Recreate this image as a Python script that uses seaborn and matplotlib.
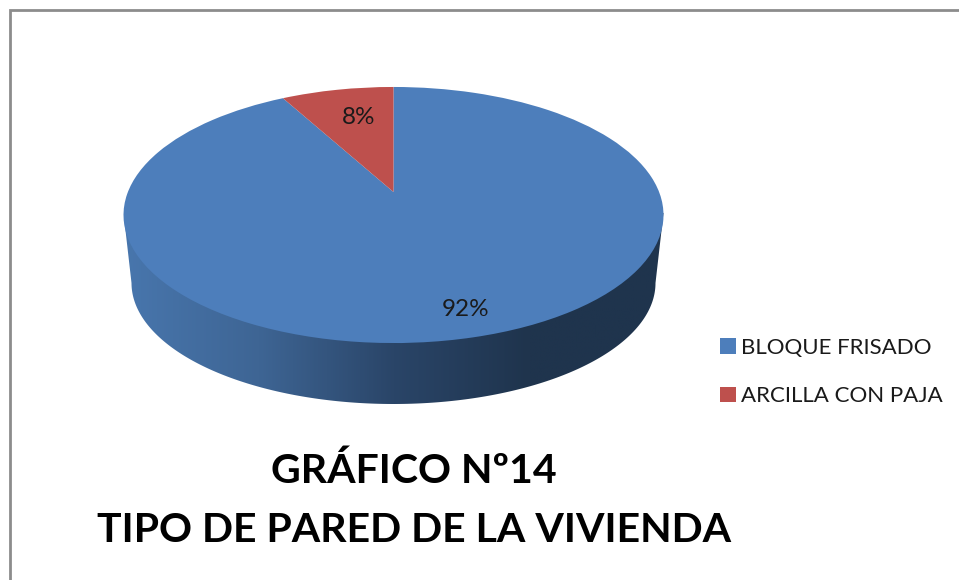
import numpy as np
import matplotlib
matplotlib.use('Agg')
import matplotlib.pyplot as plt
import seaborn as sns
from matplotlib.colors import LinearSegmentedColormap
from matplotlib.patches import Polygon
from matplotlib.transforms import Transform

# datos
categorias = ['BLOQUE FRISADO', 'ARCILLA CON PAJA']
valores = [92, 8]
titulo = ['GRÁFICO Nº14', 'TIPO DE PARED DE LA VIVIENDA']
colores = ['#4D7EBB', '#BE504D']
colores_lado = ['#4876AD', '#3E6594', '#2A4568', '#1F344D', '#1F344D']

sns.set_theme(style='white')
plt.rcParams['font.family'] = ['Lato', 'DejaVu Sans']


class Perspectiva(Transform):
    """Pasa el circulo unidad del pie a pixeles, inclinado como un pie 3D"""
    input_dims = 2
    output_dims = 2

    def transform_non_affine(self, xy):
        xy = np.asarray(xy)
        den = 1 + 0.1797 * xy[:, 1]
        return np.column_stack([393.5 + 265.6 * xy[:, 0] / den,
                                (192 - 89.4 * xy[:, 1]) / den])


fig = plt.figure(figsize=(9.59, 5.8), dpi=100)
ax = fig.add_axes([0, 0, 1, 1])

# el pie empieza donde termina la rebanada roja (arriba a la izquierda)
inicio = 90 + valores[1] * 360 / sum(valores)
wedges, _, autotexts = ax.pie(valores, colors=sns.color_palette(colores), startangle=inicio,
                              autopct='%d%%', wedgeprops={'linewidth': 0, 'edgecolor': 'none'},
                              textprops={'fontsize': 17.5, 'color': '#1a1a1a'})
persp = Perspectiva()
for w in wedges:
    w.set_transform(persp + ax.transData)
    w.set_zorder(3)
autotexts[0].set_position((466, 310))
autotexts[1].set_position((359, 117))
for t in autotexts:
    t.set_zorder(4)

# lado del cilindro con degradado, recortado a la silueta
t = np.linspace(np.pi, 2 * np.pi, 200)
borde_x = 393.5 + 262 * np.cos(t)
borde_y = 283 - 121 * np.sin(t)
silueta = Polygon(np.column_stack([np.r_[123.5, borde_x, 663.5], np.r_[213, borde_y, 213]]),
                  closed=True, transform=ax.transData, facecolor='none', edgecolor='none')
ax.add_patch(silueta)
cmap = LinearSegmentedColormap.from_list('lado', colores_lado)
grad = ax.imshow(np.linspace(0, 1, 256)[None, :], cmap=cmap, aspect='auto',
                 extent=(124, 664, 420, 200), zorder=2)
grad.set_clip_path(silueta)

ax.set_aspect('auto')
ax.set_xlim(0, 959)
ax.set_ylim(580, 0)
ax.axis('off')

# marco gris, solo arriba y a la izquierda
ax.plot([10, 10, 959], [580, 10, 10], color='#8c8c8c', lw=2, solid_joinstyle='miter', zorder=1)

leg = ax.legend(wedges, categorias, loc='upper left', bbox_to_anchor=(711, 329),
                bbox_transform=ax.transData, frameon=False, fontsize=16,
                handlelength=0.72, handleheight=0.72, handletextpad=0.25,
                labelspacing=1.28, borderaxespad=0, labelcolor='#1a1a1a')

ax.text(414, 471, titulo[0], ha='center', va='center', fontsize=29.5, fontweight='bold', color='black')
ax.text(414, 530, titulo[1], ha='center', va='center', fontsize=29.5, fontweight='bold', color='black')

fig.savefig('out.png', dpi=100)
